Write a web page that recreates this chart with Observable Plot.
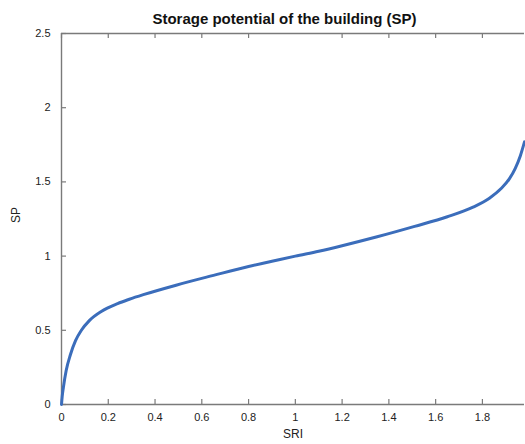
<!DOCTYPE html>
<html>
<head>
<meta charset="utf-8">
<script src="https://cdn.jsdelivr.net/npm/d3@7"></script>
<script src="https://cdn.jsdelivr.net/npm/@observablehq/plot@0.6"></script>
<style>
  body { margin: 0; background: #fff; font-family: "Liberation Sans", Arial, sans-serif; }
  #title { width: 463px; margin-left: 53px; height: 26px; line-height: 38px; text-align: center;
           font-weight: bold; font-size: 15px; color: #111; white-space: nowrap; }
</style>
</head>
<body>
<div id="title">Storage potential of the building (SP)</div>
<div id="chart"></div>
<script>
const sri = [0, 0.003, 0.008, 0.02, 0.038, 0.06, 0.085, 0.12, 0.17, 0.24, 0.29, 0.35, 0.49, 0.65, 0.8, 0.9, 1.0, 1.1, 1.2, 1.35, 1.51, 1.65, 1.76, 1.83, 1.88, 1.915, 1.94, 1.962, 1.98];
const sp  = [0, 0.055, 0.115, 0.229, 0.335, 0.43, 0.5, 0.567, 0.627, 0.680, 0.709, 0.740, 0.804, 0.87, 0.93, 0.965, 1.0, 1.033, 1.07, 1.13, 1.20, 1.265, 1.33, 1.39, 1.455, 1.52, 1.59, 1.675, 1.77];
const xTicks = [0, 0.2, 0.4, 0.6, 0.8, 1, 1.2, 1.4, 1.6, 1.8];
const xTopTicks = [0, 0.2, 0.4, 0.6, 0.8, 1.2, 1.4, 1.6, 1.8];
const yTicks = [0, 0.5, 1, 1.5, 2, 2.5];
const xLabel = "SRI";
const yLabel = "SP";

const data = sri.map((x, i) => ({x, y: sp[i]}));
const W = 525, H = 418, mT = 7, mB = 40, mL = 61, mR = 1;
const innerW = W - mL - mR, innerH = H - mT - mB;
const axisColor = "#7a7a7a";
const tickLen = 5;

const chart = Plot.plot({
  width: W, height: H,
  marginTop: mT, marginBottom: mB, marginLeft: mL, marginRight: mR,
  style: {fontFamily: "'Liberation Sans', Arial, sans-serif", fontSize: "11px", color: "#222", background: "#fff"},
  x: {domain: [0, 1.98]},
  y: {domain: [0, 2.5]},
  marks: [
    Plot.axisX({ticks: xTicks, tickSize: 0, tickPadding: 9, tickFormat: d => String(d), label: null}),
    Plot.axisY({ticks: yTicks, tickSize: 0, tickPadding: 11, tickFormat: d => String(d), label: null}),
    Plot.tickX(xTicks, {x: d => d, stroke: axisColor, strokeWidth: 1.2, insetTop: innerH - tickLen}),
    Plot.tickX(xTopTicks, {x: d => d, stroke: axisColor, strokeWidth: 1.2, insetBottom: innerH - tickLen}),
    Plot.tickY(yTicks, {y: d => d, stroke: axisColor, strokeWidth: 1.2, insetRight: innerW - tickLen}),
    Plot.ruleY([0], {stroke: axisColor, strokeWidth: 1.4}),
    Plot.ruleY([2.5], {stroke: axisColor, strokeWidth: 1.4}),
    Plot.ruleX([0], {stroke: axisColor, strokeWidth: 1.4}),
    Plot.line(data, {x: "x", y: "y", stroke: "#3b6dbb", strokeWidth: 3, curve: "monotone-x"}),
    Plot.text([xLabel], {frameAnchor: "bottom", dy: 33, fontSize: 12, fill: "#222"}),
    Plot.text([yLabel], {frameAnchor: "left", dx: -45, dy: 4, rotate: -90, fontSize: 12, fill: "#222"})
  ]
});
document.getElementById("chart").appendChild(chart);
</script>
</body>
</html>
